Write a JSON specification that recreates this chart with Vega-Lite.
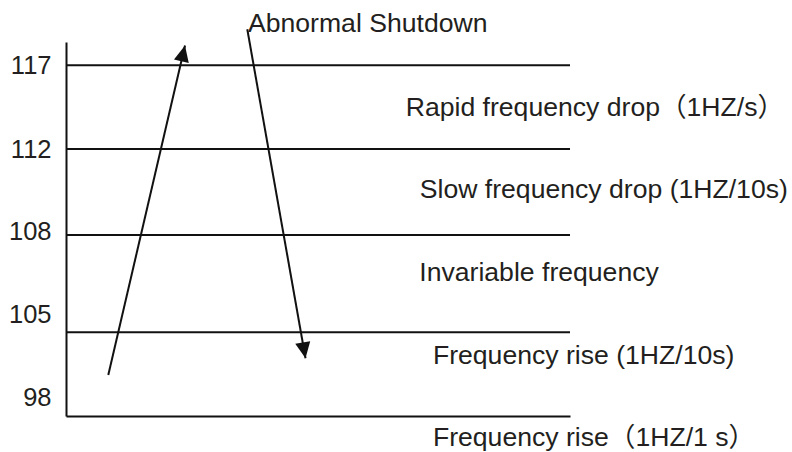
{
  "$schema": "https://vega.github.io/schema/vega-lite/v6.json",
  "width": 504,
  "height": 374,
  "autosize": {"type": "none"},
  "padding": {"left": 66, "top": 42, "right": 222, "bottom": 36},
  "background": "white",
  "config": {"view": {"stroke": null}, "font": "Liberation Sans"},
  "datasets": {
    "levels": [{"y": 117}, {"y": 112}, {"y": 108}, {"y": 105}],
    "arrows": [
      {"arrow": "rise", "step": 0, "x": 8.39, "y": 100.38},
      {"arrow": "rise", "step": 1, "x": 23.61, "y": 118.27},
      {"arrow": "shutdown", "step": 0, "x": 35.97, "y": 119.32},
      {"arrow": "shutdown", "step": 1, "x": 47.52, "y": 102.19}
    ],
    "labels": [
      {"label": "Abnormal Shutdown", "x": 36.11, "y": 119.16},
      {"label": "Rapid frequency drop（1HZ/s）", "x": 67.4, "y": 113.97},
      {"label": "Slow frequency drop (1HZ/10s)", "x": 70.2, "y": 109.71},
      {"label": "Invariable frequency", "x": 70.1, "y": 106.58},
      {"label": "Frequency rise (1HZ/10s)", "x": 72.8, "y": 101.57},
      {"label": "Frequency rise（1HZ/1 s）", "x": 72.8, "y": 92.84}
    ]
  },
  "encoding": {
    "y": {
      "field": "y",
      "type": "quantitative",
      "scale": {"type": "linear", "domain": [96, 98, 105, 108, 112, 117, 118.5], "range": [374, 355, 290.3, 193, 107, 23.3, 0], "nice": false, "zero": false},
      "axis": {
        "values": [98, 105, 108, 112, 117],
        "ticks": false,
        "tickSize": 0,
        "grid": false,
        "title": null,
        "domainColor": "#111111",
        "domainWidth": 2,
        "labelFont": "Liberation Sans",
        "labelFontSize": 25.5,
        "labelColor": "#231f20",
        "labelPadding": 15,
        "labelOverlap": false,
        "labelFlush": false,
        "labelOffset": {"expr": "datum.value == 105 ? -18 : datum.value == 108 ? -4 : 0"}
      }
    }
  },
  "layer": [
    {
      "data": {"name": "levels"},
      "mark": {"type": "rule", "color": "#111111", "strokeWidth": 2},
      "encoding": {}
    },
    {
      "data": {"name": "arrows"},
      "mark": {"type": "line", "color": "#111111", "strokeWidth": 2},
      "encoding": {
        "x": {"field": "x", "type": "quantitative", "scale": {"domain": [0, 100], "nice": false, "zero": false}, "axis": {"labels": false, "ticks": false, "grid": false, "title": null, "domainColor": "#111111", "domainWidth": 2}},
        "detail": {"field": "arrow"},
        "order": {"field": "step"}
      }
    },
    {
      "data": {"name": "arrows"},
      "transform": [{"filter": "datum.arrow == 'rise' && datum.step == 1"}],
      "mark": {"type": "point", "shape": "M0,0L0.95,2L-0.95,2Z", "size": 256, "filled": true, "color": "#111111", "opacity": 1, "strokeWidth": 0, "angle": 13.1},
      "encoding": {
        "x": {"field": "x", "type": "quantitative", "scale": {"domain": [0, 100], "nice": false, "zero": false}, "axis": {"labels": false, "ticks": false, "grid": false, "title": null, "domainColor": "#111111", "domainWidth": 2}}
      }
    },
    {
      "data": {"name": "arrows"},
      "transform": [{"filter": "datum.arrow == 'shutdown' && datum.step == 1"}],
      "mark": {"type": "point", "shape": "M0,0L0.95,2L-0.95,2Z", "size": 256, "filled": true, "color": "#111111", "opacity": 1, "strokeWidth": 0, "angle": 170},
      "encoding": {
        "x": {"field": "x", "type": "quantitative", "scale": {"domain": [0, 100], "nice": false, "zero": false}, "axis": {"labels": false, "ticks": false, "grid": false, "title": null, "domainColor": "#111111", "domainWidth": 2}}
      }
    },
    {
      "data": {"name": "labels"},
      "mark": {"type": "text", "align": "left", "baseline": "alphabetic", "fontSize": 26.6, "font": "Liberation Sans, Noto Sans CJK SC", "color": "#231f20"},
      "encoding": {
        "x": {"field": "x", "type": "quantitative", "scale": {"domain": [0, 100], "nice": false, "zero": false}, "axis": {"labels": false, "ticks": false, "grid": false, "title": null, "domainColor": "#111111", "domainWidth": 2}},
        "text": {"field": "label"}
      }
    }
  ]
}
